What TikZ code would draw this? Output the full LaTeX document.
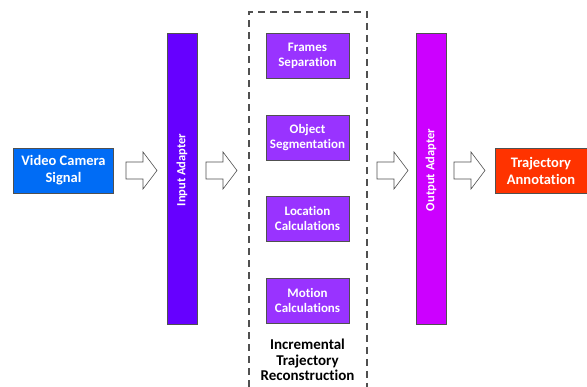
\documentclass[tikz,border=0pt]{standalone}
\usepackage{fontspec}
\setmainfont{Carlito}[Ligatures=NoCommon, BoldFont={Carlito Bold}]
\usetikzlibrary{positioning}
\definecolor{vblue}{RGB}{0,108,245}
\definecolor{vviolet}{RGB}{102,0,255}
\definecolor{vpurple}{RGB}{153,51,255}
\definecolor{vmag}{RGB}{204,0,255}
\definecolor{vred}{RGB}{255,51,0}
\definecolor{bord}{RGB}{80,80,80}
\tikzset{
  box/.style={draw=bord, line width=0.6pt, text=white, font=\bfseries, align=center, inner sep=0pt},
  inner/.style={box, fill=vpurple, minimum width=83pt, minimum height=45pt, font=\bfseries\fontsize{13}{15}\selectfont},
  adapter/.style={box, minimum width=30pt, minimum height=291pt},
  vlabel/.style={rotate=90, text=white, font=\bfseries\fontsize{12.5}{15}\selectfont},
  endbox/.style={box, minimum height=45pt, font=\bfseries\fontsize{14.5}{17}\selectfont},
  blockarrow/.style={draw=bord, fill=white, line width=0.6pt, line join=miter}
}
\newcommand{\blockarr}[2]{% left x, center y
  \draw[blockarrow] (#1,#2+8.5) -- (#1+17,#2+8.5) -- (#1+17,#2+18.5) -- (#1+31,#2) -- (#1+17,#2-18.5) -- (#1+17,#2-8.5) -- (#1,#2-8.5) -- cycle;}
\begin{document}
\begin{tikzpicture}[x=1pt,y=-1pt]
\useasboundingbox (0,0) rectangle (587,387);
% end boxes
\node[endbox, fill=vblue, minimum width=100pt] (vcs) at (63.5,170.5) {Video Camera\\Signal};
\node[endbox, fill=vred, minimum width=92pt] (ta) at (541,170.5) {Trajectory\\Annotation};
% adapters
\node[adapter, fill=vviolet] (ia) at (182,178.5) {};
\node[vlabel] (ial) at (182,170) {Input Adapter};
\node[adapter, fill=vmag] (oa) at (431,178.5) {};
\node[vlabel] (oal) at (431,170) {Output Adapter};
% dashed container
\draw[bord, line width=1.2pt, dash pattern=on 7pt off 5pt] (249,387) -- (249,12) -- (367,12) -- (367,387);
\node[inner] (fs) at (307.5,55.5) {Frames\\Separation};
\node[inner] (os) at (307.5,137.5) {Object\\Segmentation};
\node[inner] (lc) at (307.5,218.5) {Location\\Calculations};
\node[inner] (mc) at (307.5,300.5) {Motion\\Calculations};
\node[align=center, font=\bfseries\fontsize{15}{15.5}\selectfont, text=black] (itr) at (307.5,360) {Incremental\\Trajectory\\Reconstruction};
% block arrows
\blockarr{126}{170.5}
\blockarr{206}{170.5}
\blockarr{377}{170.5}
\blockarr{454}{170.5}
\end{tikzpicture}
\end{document}
